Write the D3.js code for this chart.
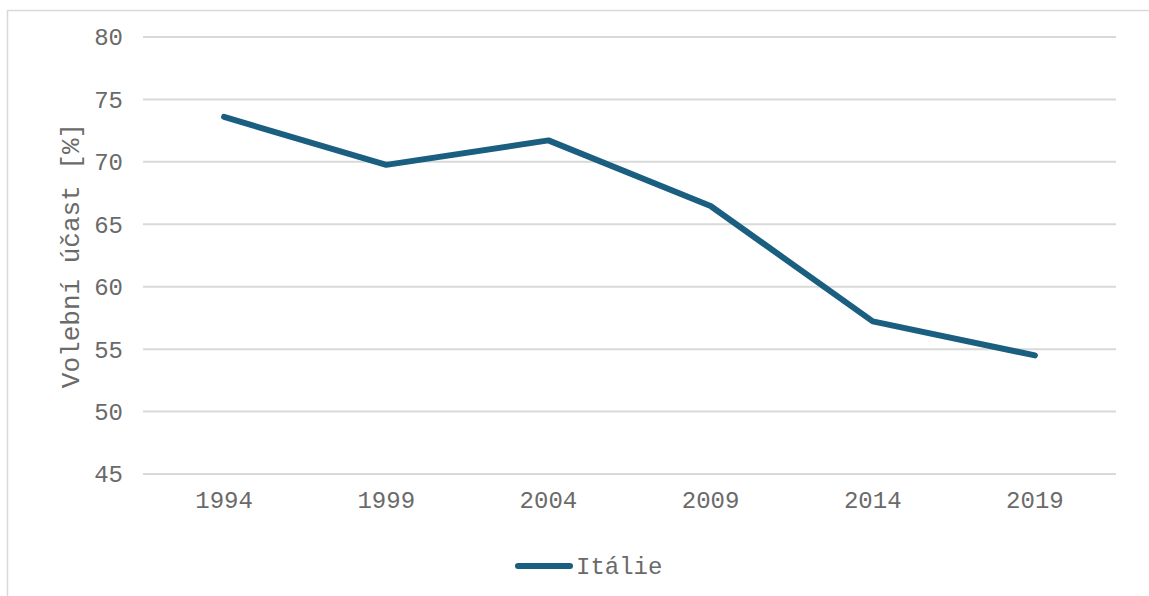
<!DOCTYPE html>
<html>
<head>
<meta charset="utf-8">
<script src="https://cdn.jsdelivr.net/npm/d3@7"></script>
<style>
    body { margin: 0; background: #fff; }
    svg text { font-family: "Liberation Mono", "Courier New", monospace; fill: #6a6a6a; }
</style>
</head>
<body>
<svg id="chart"></svg>
<script>
// election turnout, Italy (EP elections)
const years = ['1994', '1999', '2004', '2009', '2014', '2019'];
const turnout = [73.6, 69.76, 71.72, 66.47, 57.22, 54.5];
const yTicks = [45, 50, 55, 60, 65, 70, 75, 80];
const seriesName = 'Itálie';
const yTitle = 'Volební účast [%]';

const width = 1149;
const height = 596;
const margin = { top: 37, right: 33, bottom: 122, left: 143 };
const lineColor = '#1b5f80';

const svg = d3.select('#chart')
    .attr('width', width)
    .attr('height', height);

// outer chart frame (runs off the right/bottom edge)
svg.append('rect')
    .attr('x', 7.5).attr('y', 10.5)
    .attr('width', width).attr('height', height)
    .attr('fill', 'none')
    .attr('stroke', '#d9d9d9')
    .attr('stroke-width', 1.5);

const x = d3.scaleBand()
    .domain(years)
    .range([margin.left, width - margin.right]);

const y = d3.scaleLinear()
    .domain([45, 80])
    .range([height - margin.bottom, margin.top]);

// gridlines
svg.append('g')
    .selectAll('line')
    .data(yTicks)
    .join('line')
    .attr('x1', margin.left)
    .attr('x2', width - margin.right)
    .attr('y1', d => y(d))
    .attr('y2', d => y(d))
    .attr('stroke', '#d9d9d9')
    .attr('stroke-width', 2);

// y tick labels
svg.append('g')
    .selectAll('text')
    .data(yTicks)
    .join('text')
    .attr('x', margin.left - 20)
    .attr('y', d => y(d))
    .attr('dy', '0.35em')
    .attr('text-anchor', 'end')
    .attr('font-size', 24)
    .text(d => d);

// x tick labels
svg.append('g')
    .selectAll('text')
    .data(years)
    .join('text')
    .attr('x', d => x(d) + x.bandwidth() / 2)
    .attr('y', y(45) + 34)
    .attr('text-anchor', 'middle')
    .attr('font-size', 24)
    .text(d => d);

// axis title
svg.append('text')
    .attr('transform', `translate(79, ${(y(45) + y(80)) / 2}) rotate(-90)`)
    .attr('text-anchor', 'middle')
    .attr('font-size', 26)
    .text(yTitle);

// series line
const line = d3.line()
    .x((d, i) => x(years[i]) + x.bandwidth() / 2)
    .y(d => y(d));

svg.append('path')
    .datum(turnout)
    .attr('d', line)
    .attr('fill', 'none')
    .attr('stroke', lineColor)
    .attr('stroke-width', 6)
    .attr('stroke-linecap', 'round')
    .attr('stroke-linejoin', 'round');

// legend
const legend = svg.append('g').attr('transform', 'translate(518, 566)');
legend.append('line')
    .attr('x1', 0).attr('x2', 52)
    .attr('stroke', lineColor)
    .attr('stroke-width', 6)
    .attr('stroke-linecap', 'round');
legend.append('text')
    .attr('x', 58)
    .attr('dy', '0.35em')
    .attr('font-size', 24)
    .text(seriesName);
</script>
</body>
</html>
